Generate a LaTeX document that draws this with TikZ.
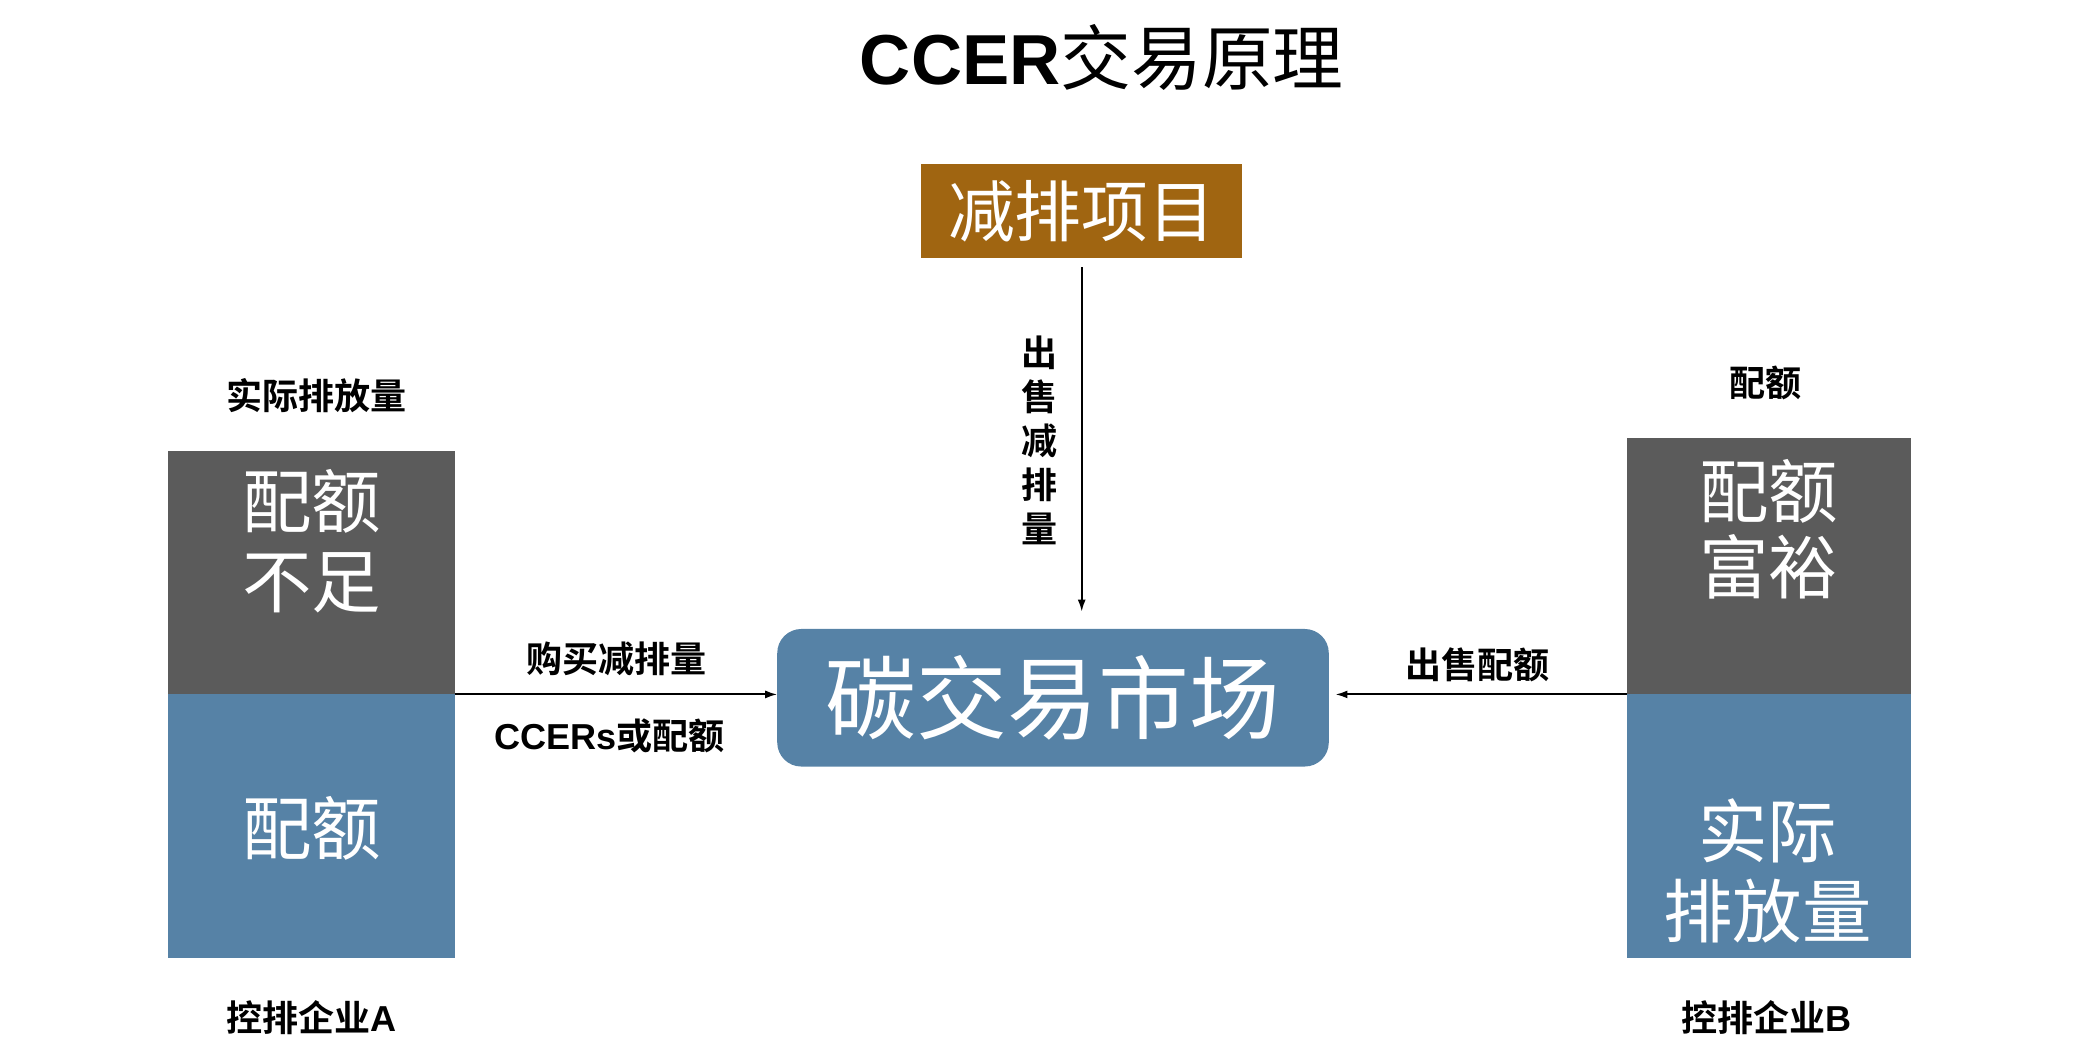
\documentclass[tikz,border=0pt]{standalone}
\usepackage{fontspec}
\setmainfont{Liberation Sans}
\newfontfamily\cjk{Noto Sans CJK SC}[BoldFont={Noto Sans CJK SC Bold}]
\usepackage{xcolor}
\usetikzlibrary{arrows.meta, positioning}
\definecolor{slab}{RGB}{91,91,91}
\definecolor{steel}{RGB}{86,130,166}
\definecolor{ochre}{RGB}{160,101,17}

\begin{document}
\begin{tikzpicture}[x=1pt, y=1pt,
        % Define styles for the blocks, big white texts, small labels and arrows
        box/.style={inner sep=0pt, outer sep=0pt},
        bigtxt/.style={text=white, align=center, font=\cjk\fontsize{52}{60}\selectfont},
        lbl/.style={align=center, font=\cjk\bfseries\fontsize{27}{33}\selectfont},
        flow/.style={line width=1.4pt, -{Latex[length=9pt,width=6pt]}}
    ]
        \useasboundingbox (0,0) rectangle (1568,789);

        % --- Title ---
        \node (title) [font=\bfseries\fontsize{53}{60}\selectfont] at (825, 746) {CCER{\cjk\mdseries 交易原理}};

        % --- Emission reduction project and market ---
        \node (proj) [box, fill=ochre, minimum width=240pt, minimum height=70pt, text=white,
            font=\cjk\fontsize{50}{56}\selectfont] at (810, 631) {减排项目};
        \node (market) [box, fill=steel, rounded corners=18pt, minimum width=413pt, minimum height=103pt,
            text=white, font=\cjk\fontsize{68}{72}\selectfont] at (788.5, 266.5) {碳交易市场};

        % --- Firm A ---
        \node (A_top) [box, fill=slab, minimum width=215pt, minimum height=182pt] at (233.5, 360) {};
        \node (A_bot) [box, fill=steel, minimum width=215pt, minimum height=197pt, below=0pt of A_top] {};
        \node (A_top_txt) [bigtxt] at (233.5, 384) {配额\\不足};
        \node (A_bot_txt) [bigtxt] at (233.5, 169) {配额};
        \node (A_head) [lbl] at (237, 493) {实际排放量};
        \node (A_name) [lbl] at (233, 27) {控排企业{\rmfamily A}};

        % --- Firm B ---
        \node (B_top) [box, fill=slab, minimum width=213pt, minimum height=192pt] at (1324.5, 365) {};
        \node (B_bot) [box, fill=steel, minimum width=213pt, minimum height=197pt, below=0pt of B_top] {};
        \node (B_top_txt) [bigtxt, font=\cjk\fontsize{52}{57}\selectfont] at (1324.5, 392.5) {配额\\富裕};
        \node (B_bot_txt) [bigtxt] at (1323.5, 137) {实际\\排放量};
        \node (B_head) [lbl] at (1322, 502) {配额};
        \node (B_name) [lbl] at (1323, 27) {控排企业{\rmfamily B}};

        % --- Arrows and their labels ---
        \draw[flow, shorten <=7pt, shorten >=13pt] (proj.south) -- (proj.south |- market.north)
            node[midway, left=14pt, yshift=2pt, lbl] {出\\售\\减\\排\\量};

        \draw[flow] (A_top.south east) -- (market.west |- A_top.south east)
            node[midway, above=10pt, lbl] {购买减排量}
            node[midway, below=14pt, xshift=-5pt, lbl] {{\rmfamily CCERs}或配额};

        \draw[flow, shorten >=5pt] (B_top.south west) -- (market.east |- B_top.south west)
            node[midway, above=5pt, lbl] {出售配额};

    \end{tikzpicture}
\end{document}
